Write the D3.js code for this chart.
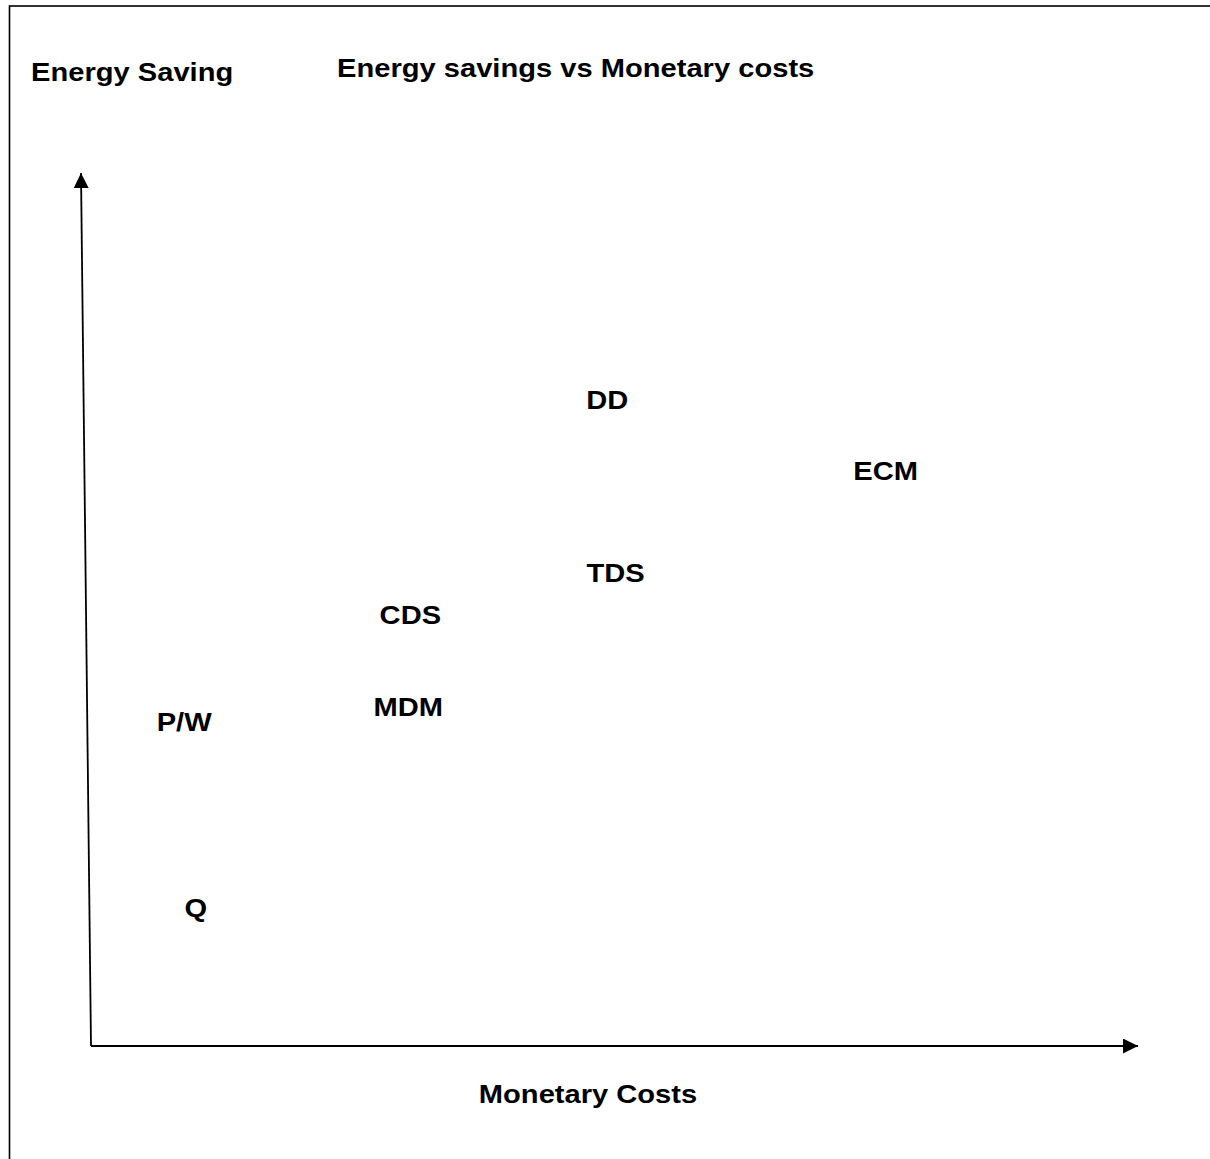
<!DOCTYPE html>
<html>
<head>
<meta charset="utf-8">
<script src="https://d3js.org/d3.v7.min.js"></script>
<style>
  body { margin: 0; background: #fff; }
  text { font-family: "Liberation Sans", Arial, sans-serif; font-weight: bold; fill: #000; }
</style>
</head>
<body>
<div id="chart"></div>
<script>
// Set svg dimensions
var svgWidth = 1210;
var svgHeight = 1159;

// Data (0-100 on both axes)
var labels = ["DD", "ECM", "TDS", "CDS", "MDM", "P/W", "Q"];
var monetaryCosts = [49.3, 75.9, 50.1, 30.5, 30.3, 8.9, 10.0];
var energySavings = [74.1, 65.9, 54.2, 49.4, 38.9, 37.2, 15.9];

var titleText = "Energy savings vs Monetary costs";
var xLabel = "Monetary Costs";
var yLabel = "Energy Saving";

// text in the picture is a bit wider than normal
var stretch = 1.12;

var svg = d3.select("#chart")
  .append("svg")
  .attr("width", svgWidth)
  .attr("height", svgHeight);

// frame (runs off the right and bottom of the page)
svg.append("rect")
  .attr("x", 9.5)
  .attr("y", 6)
  .attr("width", 1400)
  .attr("height", 1400)
  .attr("fill", "none")
  .attr("stroke", "#000")
  .attr("stroke-width", 1.6);

// scales
var xScale = d3.scaleLinear().domain([0, 100]).range([91, 1138]);
var yScale = d3.scaleLinear().domain([0, 100]).range([1046, 173]);

// arrow heads
var defs = svg.append("defs");
defs.append("marker")
  .attr("id", "arrow")
  .attr("viewBox", "0 0 15 15")
  .attr("refX", 15)
  .attr("refY", 7.5)
  .attr("markerWidth", 15)
  .attr("markerHeight", 15)
  .attr("markerUnits", "userSpaceOnUse")
  .attr("orient", "auto")
  .append("path")
  .attr("d", "M0,0 L15,7.5 L0,15 Z")
  .attr("fill", "#000");

// x axis
svg.append("line")
  .attr("x1", xScale(0))
  .attr("y1", yScale(0))
  .attr("x2", xScale(100))
  .attr("y2", yScale(0))
  .attr("stroke", "#000")
  .attr("stroke-width", 1.8)
  .attr("marker-end", "url(#arrow)");

// y axis (leans a little to the left as in the original)
svg.append("line")
  .attr("x1", xScale(0))
  .attr("y1", yScale(0))
  .attr("x2", xScale(0) - 10)
  .attr("y2", yScale(100))
  .attr("stroke", "#000")
  .attr("stroke-width", 1.8)
  .attr("marker-end", "url(#arrow)");

// helper for stretched text
function addText(x, y, str, anchor) {
  svg.append("g")
    .attr("transform", `translate(${x}, ${y}) scale(${stretch}, 1)`)
    .append("text")
    .attr("text-anchor", anchor)
    .attr("font-size", "26px")
    .text(str);
}

// titles
addText(31, 81, yLabel, "start");
addText(337, 77, titleText, "start");
addText(588, 1103, xLabel, "middle");

// point labels
var points = svg.append("g")
  .selectAll("g")
  .data(labels)
  .enter()
  .append("g")
  .attr("transform", (d, i) => `translate(${xScale(monetaryCosts[i])}, ${yScale(energySavings[i]) + 9.5}) scale(${stretch}, 1)`);

points.append("text")
  .attr("text-anchor", "middle")
  .attr("font-size", "26px")
  .text(d => d);
</script>
</body>
</html>
